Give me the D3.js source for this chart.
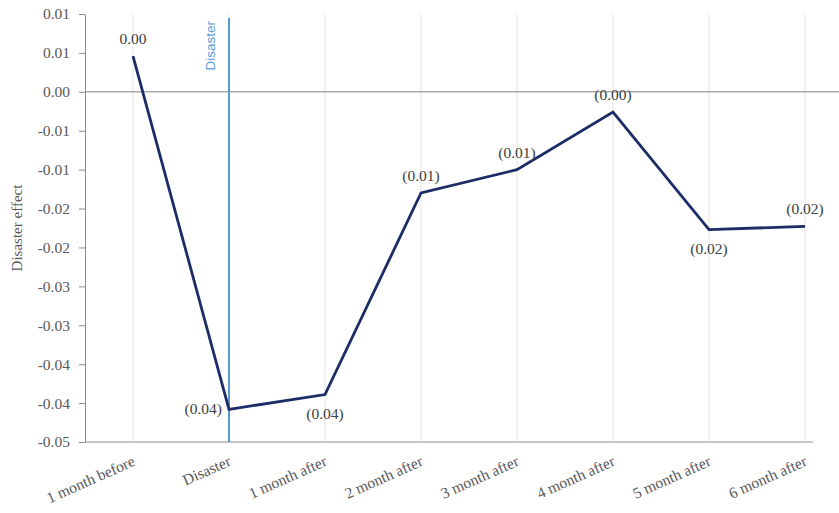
<!DOCTYPE html>
<html>
<head>
<meta charset="utf-8">
<script src="https://cdn.jsdelivr.net/npm/d3@7"></script>
<style>
  body { margin: 0; background: #fff; }
  svg { display: block; }
  .serif { font-family: "Liberation Serif", "Times New Roman", Times, serif; }
</style>
</head>
<body>
<div id="chart"></div>
<script>
// Chart size
const width = 839;
const height = 513;
const margin = {left: 85, right: 26, top: 14, bottom: 71};

// data
const categories = ["1 month before", "Disaster", "1 month after", "2 month after",
                    "3 month after", "4 month after", "5 month after", "6 month after"];
const effects = [0.0046, -0.0408, -0.0389, -0.0130, -0.0100, -0.0026, -0.0177, -0.0173];
const yTicks = [0.01, 0.005, 0, -0.005, -0.01, -0.015, -0.02, -0.025, -0.03, -0.035, -0.04, -0.045];
// where each value label sits relative to its point
const labelPos = ["above", "left", "below", "above", "above", "above", "below", "above"];
const eventCategory = "Disaster";

const svg = d3.select("#chart")
  .append("svg")
  .attr("width", width)
  .attr("height", height);

// y scale, 0.01 at the top down to -0.045
const yScale = d3.scaleLinear()
  .domain([-0.045, 0.01])
  .range([height - margin.bottom, margin.top]);

// categories placed on tick marks
const xScale = d3.scalePoint()
  .domain(categories)
  .range([133, 805]);

const axisColor = "#8c8c8c";
const textColor = "#595959";

// vertical gridlines at each category
svg.append("g")
  .selectAll("line")
  .data(categories)
  .join("line")
    .attr("x1", d => xScale(d))
    .attr("x2", d => xScale(d))
    .attr("y1", yScale(0.01))
    .attr("y2", yScale(-0.045))
    .attr("stroke", "#e3e3e3")
    .attr("stroke-width", 1);

// y axis
const fmtTick = v => {
  const r = Math.round(Math.abs(v) * 100 + 1e-9) / 100;
  return (v < 0 ? "-" : "") + r.toFixed(2);
};
const yAxis = svg.append("g")
  .attr("transform", `translate(${margin.left},0)`)
  .call(d3.axisLeft(yScale).tickValues(yTicks).tickSize(6).tickSizeOuter(0).tickFormat(fmtTick));
yAxis.attr("font-family", null).attr("font-size", null);
yAxis.select(".domain").attr("stroke", axisColor);
yAxis.selectAll(".tick line").attr("stroke", axisColor);
yAxis.selectAll(".tick text")
  .attr("x", -15)
  .attr("class", "serif")
  .attr("fill", textColor)
  .style("font-size", "15.5px");

// x axis line at the bottom
svg.append("line")
  .attr("x1", margin.left)
  .attr("x2", 813)
  .attr("y1", yScale(-0.045))
  .attr("y2", yScale(-0.045))
  .attr("stroke", axisColor);

// zero line
svg.append("line")
  .attr("x1", margin.left)
  .attr("x2", width)
  .attr("y1", yScale(0))
  .attr("y2", yScale(0))
  .attr("stroke", "#7f7f7f");

// rotated category labels
svg.append("g")
  .selectAll("text")
  .data(categories)
  .join("text")
    .attr("class", "serif")
    .attr("transform", d => `translate(${xScale(d) + 3},${yScale(-0.045) + 23}) rotate(-24)`)
    .attr("text-anchor", "end")
    .attr("fill", textColor)
    .style("font-size", "15.5px")
    .text(d => d);

// event marker line
const ex = xScale(eventCategory);
svg.append("line")
  .attr("x1", ex)
  .attr("x2", ex)
  .attr("y1", 18)
  .attr("y2", yScale(-0.045))
  .attr("stroke", "#5b9bd5")
  .attr("stroke-width", 2);

svg.append("text")
  .attr("transform", `translate(${ex - 14},21) rotate(-90)`)
  .attr("text-anchor", "end")
  .attr("fill", "#5b9bd5")
  .style("font-family", "'Liberation Sans', Arial, sans-serif")
  .style("font-size", "13.5px")
  .text("Disaster");

// the series line
const line = d3.line()
  .x((d, i) => xScale(categories[i]))
  .y(d => yScale(d));

svg.append("path")
  .datum(effects)
  .attr("fill", "none")
  .attr("stroke", "#1c2c66")
  .attr("stroke-width", 2.8)
  .attr("stroke-linejoin", "miter")
  .attr("d", line);

// data labels, negatives in brackets
const fmtLabel = v => {
  const s = Math.abs(v).toFixed(2);
  return v < 0 ? "(" + s + ")" : s;
};
svg.append("g")
  .selectAll("text")
  .data(effects)
  .join("text")
    .attr("class", "serif")
    .attr("x", (d, i) => {
      const x = xScale(categories[i]);
      return labelPos[i] === "left" ? x - 7 : x;
    })
    .attr("y", (d, i) => {
      const y = yScale(d);
      if (labelPos[i] === "above") return y - 12;
      if (labelPos[i] === "below") return y + 24;
      return y + 5;
    })
    .attr("text-anchor", (d, i) => labelPos[i] === "left" ? "end" : "middle")
    .attr("fill", "#404040")
    .style("font-size", "15.5px")
    .text(d => fmtLabel(d));

// y axis title
svg.append("text")
  .attr("class", "serif")
  .attr("transform", `translate(22,${(yScale(0.01) + yScale(-0.045)) / 2}) rotate(-90)`)
  .attr("text-anchor", "middle")
  .attr("fill", textColor)
  .style("font-size", "15px")
  .text("Disaster effect");
</script>
</body>
</html>
